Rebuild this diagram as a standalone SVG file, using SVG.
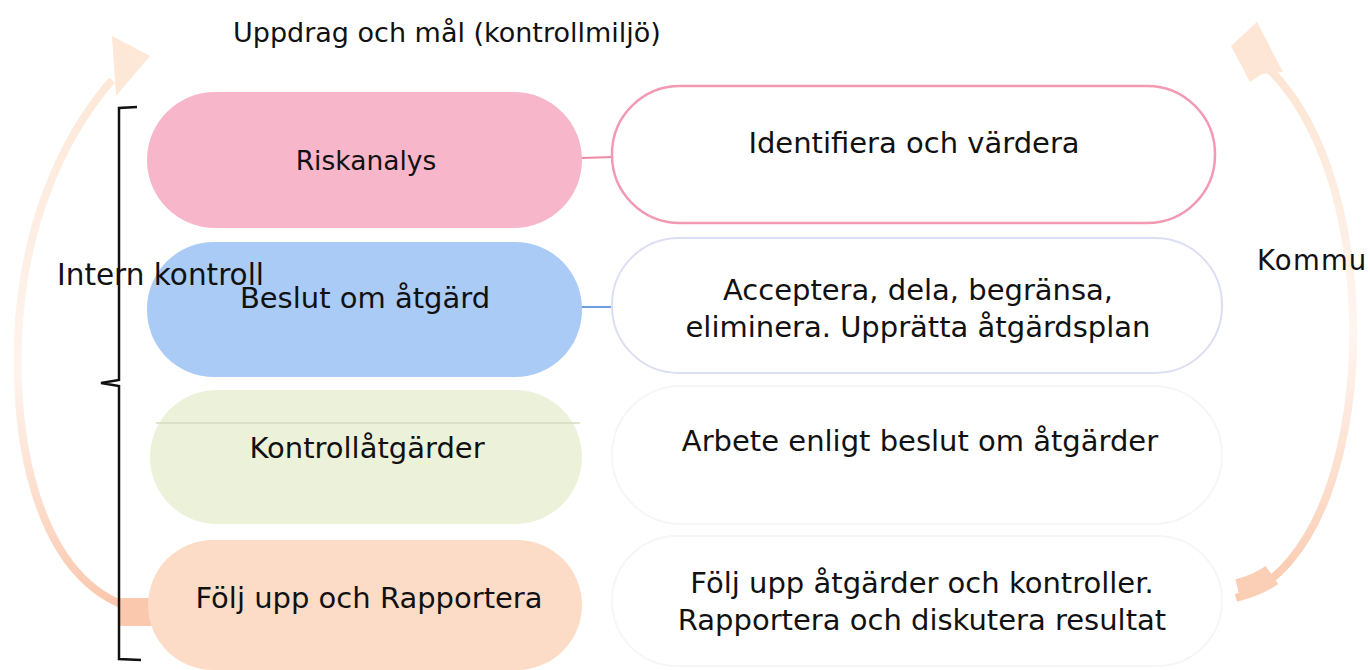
<svg xmlns="http://www.w3.org/2000/svg" width="1370" height="670" viewBox="0 0 1370 670">
<defs>
<style>
text{font-family:"DejaVu Sans","Liberation Sans",sans-serif;fill:#111;}
.t29{font-size:29px;}
.mid{text-anchor:middle;}
.out{fill:#fff;}
</style>
<linearGradient id="gl" x1="0" y1="0" x2="0" y2="1">
<stop offset="0" stop-color="#fde8d8"/>
<stop offset="0.55" stop-color="#fef4ee"/>
<stop offset="0.8" stop-color="#fcdccb"/>
<stop offset="1" stop-color="#f9c6ab"/>
</linearGradient>
<linearGradient id="gr" x1="0" y1="0" x2="0" y2="1">
<stop offset="0" stop-color="#fde5d3"/>
<stop offset="0.5" stop-color="#fef5f0"/>
<stop offset="0.8" stop-color="#fcdcca"/>
<stop offset="1" stop-color="#fac9ae"/>
</linearGradient>
</defs>
<rect width="1370" height="670" fill="#fff"/>

<g id="cycle-arrows">
<path d="M150,612 C 50,598 14,470 18,340 C 22,230 60,140 112,80" fill="none" stroke="url(#gl)" stroke-width="8"/>
<path d="M120,612 L152,612" stroke="#f9c8ad" stroke-width="28"/>
<polygon points="112,36 150,56 116,96" fill="#fde8d8"/>
<path d="M1236,598 C 1320,572 1356,440 1353,320 C 1350,200 1315,115 1270,70" fill="none" stroke="url(#gr)" stroke-width="8"/>
<path d="M1238,590 C 1250,587 1262,582 1272,575" fill="none" stroke="#fbcfb6" stroke-width="22"/>
<polygon points="1257,22 1231,46 1250,82 1262,74 1283,72" fill="#fde6d6"/>
</g>

<g id="title"><text x="233" y="42" style="font-size:27px">Uppdrag och mål (kontrollmiljö)</text></g>
<g id="side-label"><text x="1257" y="270" style="font-size:27.5px;letter-spacing:1.2px">Kommu</text></g>

<g id="connectors">
<line x1="581" y1="158" x2="614" y2="157" stroke="#f08aa4" stroke-width="2"/>
<line x1="581" y1="307" x2="614" y2="307" stroke="#6f9fe0" stroke-width="2"/>
</g>

<g id="bracket">
<path d="M137,107 L119,108 L119,380 L101,383 L119,386 L119,659 L141,660" fill="none" stroke="#111" stroke-width="2.5"/>
</g>

<g id="riskanalys">
<rect x="147" y="92" width="435" height="136" rx="68" fill="#f8b6ca"/>
<text x="366" y="170" class="mid" style="font-size:26.5px">Riskanalys</text>
</g>
<g id="beslut">
<rect x="147" y="242" width="435" height="135" rx="67" fill="#abcbf7"/>
<text x="365" y="308" class="mid t29">Beslut om åtgärd</text>
</g>
<g id="kontrollatgarder">
<rect x="150" y="390" width="432" height="134" rx="67" fill="#ecf2da"/>
<line x1="156" y1="423" x2="580" y2="423" stroke="#d3dbc0" stroke-width="1.5"/>
<text x="367" y="458" class="mid t29">Kontrollåtgärder</text>
</g>
<g id="folj-upp">
<rect x="148" y="540" width="434" height="130" rx="65" fill="#fddcc7"/>
<text x="369" y="608" class="mid t29">Följ upp och Rapportera</text>
</g>

<g id="identifiera">
<rect x="612" y="86" width="603" height="137" rx="68" class="out" stroke="#f29ab4" stroke-width="2.5"/>
<text x="914" y="153" class="mid t29">Identifiera och värdera</text>
</g>
<g id="acceptera">
<rect x="612" y="238" width="610" height="135" rx="67" class="out" stroke="#dcdff3" stroke-width="2"/>
<text x="918" y="300" class="mid t29">Acceptera, dela, begränsa,</text>
<text x="918" y="337" class="mid t29">eliminera. Upprätta åtgärdsplan</text>
</g>
<g id="arbete">
<rect x="612" y="386" width="610" height="138" rx="69" class="out" stroke="#f6f6f6" stroke-width="2"/>
<text x="920" y="451" class="mid t29">Arbete enligt beslut om åtgärder</text>
</g>
<g id="folj-rapportera">
<rect x="612" y="536" width="610" height="130" rx="65" class="out" stroke="#f6f6f6" stroke-width="2"/>
<text x="922" y="593" class="mid t29">Följ upp åtgärder och kontroller.</text>
<text x="922" y="630" class="mid t29">Rapportera och diskutera resultat</text>
</g>

<g id="intern-kontroll-label"><text x="57" y="285" style="font-size:29.5px">Intern kontroll</text></g>
</svg>
